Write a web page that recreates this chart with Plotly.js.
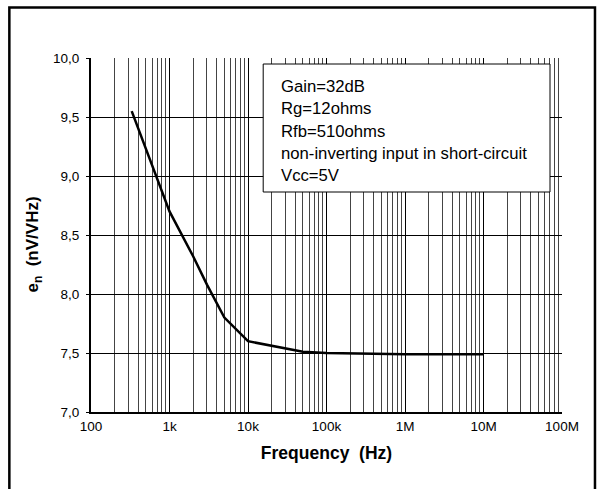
<!DOCTYPE html>
<html>
<head>
<meta charset="utf-8">
<script src="https://cdn.plot.ly/plotly-3.0.1.min.js"></script>
<style>
html,body{margin:0;padding:0;background:#fff;}
#chart{width:602px;height:489px;}
</style>
</head>
<body>
<div id="chart"></div>
<script>
// Data
var freqHz = [330, 1000, 2000, 3000, 5000, 10000, 50000, 100000, 1000000, 10000000];
var noiseNV = [9.55, 8.70, 8.32, 8.08, 7.80, 7.60, 7.51, 7.50, 7.49, 7.49];

var xTickVals = [100, 1e3, 1e4, 1e5, 1e6, 1e7, 1e8];
var xTickText = ['100', '1k', '10k', '100k', '1M', '10M', '100M'];
var yTickVals = [7.0, 7.5, 8.0, 8.5, 9.0, 9.5, 10.0];
var yTickText = ['7,0', '7,5', '8,0', '8,5', '9,0', '9,5', '10,0'];

var noteLines = ['Gain=32dB', 'Rg=12ohms', 'Rfb=510ohms', 'non-inverting input in short-circuit', 'Vcc=5V'];

// minor grid positions (2..9 in each decade)
var minorVals = [];
for (var d = 100; d < 1e8; d *= 10) {
  for (var m = 2; m <= 9; m++) minorVals.push(d * m);
}

var FONT = 'Liberation Sans, Arial, sans-serif';

var annotations = noteLines.map(function (t, i) {
  return {
    xref: 'paper', yref: 'paper',
    x: (279 - 90.7) / 471.3,
    y: (412 - (87 + i * 22)) / 354,
    xanchor: 'left', yanchor: 'middle',
    text: t, showarrow: false,
    font: {family: FONT, size: 16.7, color: '#000'}
  };
});

var layout = {
  width: 602, height: 489,
  margin: {l: 90.7, r: 40, t: 58, b: 77, pad: 0},
  paper_bgcolor: '#fff', plot_bgcolor: '#fff',
  showlegend: false,
  font: {family: FONT, color: '#000', size: 13.5},
  xaxis: {
    type: 'log', range: [2, 8],
    tickmode: 'array', tickvals: xTickVals, ticktext: xTickText,
    showgrid: true, gridcolor: '#000', gridwidth: 1,
    showline: true, linecolor: '#000', linewidth: 2, mirror: false,
    ticks: '', ticklabelstandoff: 1,
    tickfont: {family: FONT, size: 13.5, color: '#000'},
    zeroline: false,
    minor: {tickmode: 'array', tickvals: minorVals, showgrid: true, gridcolor: '#444', gridwidth: 1, ticks: ''},
    title: {text: '<b>Frequency&nbsp;&nbsp;(Hz)</b>', font: {family: FONT, size: 17.5, color: '#000'}, standoff: 14}
  },
  yaxis: {
    range: [7, 10],
    tickmode: 'array', tickvals: yTickVals, ticktext: yTickText,
    showgrid: true, gridcolor: '#000', gridwidth: 1,
    showline: true, linecolor: '#000', linewidth: 2,
    ticks: 'outside', ticklen: 3, tickcolor: '#000', ticklabelstandoff: 4,
    tickfont: {family: FONT, size: 13.5, color: '#000'},
    zeroline: false,
    title: {text: '<b>e<sub>n</sub>&nbsp;&nbsp;(nV/VHz)&nbsp;&nbsp;&nbsp;&nbsp;</b>', font: {family: FONT, size: 17, color: '#000'}, standoff: 10}
  },
  shapes: [
    {type: 'rect', xref: 'paper', yref: 'paper',
     x0: (9 - 90.7) / 471.3, x1: (595 - 90.7) / 471.3,
     y0: -0.4, y1: (412 - 7.5) / 354,
     line: {color: '#000', width: 2.5}, fillcolor: 'rgba(0,0,0,0)', layer: 'above'},
    {type: 'rect', xref: 'paper', yref: 'paper',
     x0: (263 - 90.7) / 471.3, x1: (550 - 90.7) / 471.3,
     y0: (412 - 192) / 354, y1: (412 - 64) / 354,
     line: {color: '#000', width: 1}, fillcolor: '#fff', layer: 'above'}
  ],
  annotations: annotations
};

var trace = {
  x: freqHz, y: noiseNV, type: 'scatter', mode: 'lines',
  line: {color: '#000', width: 2.5},
  hoverinfo: 'skip'
};

Plotly.newPlot('chart', [trace], layout, {displayModeBar: false, staticPlot: true});
</script>
</body>
</html>
